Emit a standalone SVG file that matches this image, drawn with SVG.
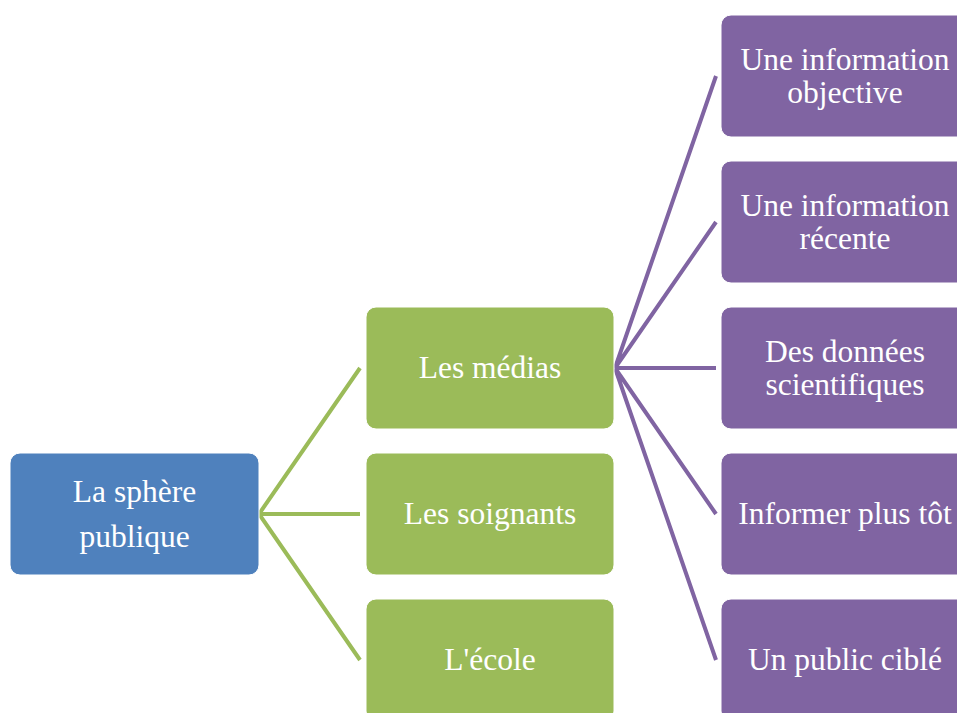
<svg xmlns="http://www.w3.org/2000/svg" width="957" height="713" viewBox="0 0 957 713">
<style>
.n rect{stroke:#ffffff;stroke-width:1;}
.b rect{fill:#4F81BD;}
.g rect{fill:#9BBB59;}
.p rect{fill:#8064A2;}
text{font-family:"Liberation Serif","Times New Roman",serif;font-size:31.5px;fill:#ffffff;text-anchor:middle;}
.cg{stroke:#9BBB59;stroke-width:4;fill:none;}
.cp{stroke:#8064A2;stroke-width:4;fill:none;}
</style>
<rect width="957" height="713" fill="#ffffff"/>
<g id="connectors">
<path class="cg" d="M360,368 L259,514 L360,660 M259,514 L360,514"/>
<path class="cp" d="M716,76 L615,368 L716,222 M615,368 L716,368 M615,368 L716,514 M615,368 L716,660"/>
</g>
<g id="root" class="n b"><rect x="10" y="453" width="249" height="122" rx="10"/><text x="134.5" y="501.5">La sphère</text><text x="134.5" y="546.5">publique</text></g>
<g id="medias" class="n g"><rect x="366" y="307" width="248" height="122" rx="10"/><text x="490" y="378">Les médias</text></g>
<g id="soignants" class="n g"><rect x="366" y="453" width="248" height="122" rx="10"/><text x="490" y="524">Les soignants</text></g>
<g id="ecole" class="n g"><rect x="366" y="599" width="248" height="122" rx="10"/><text x="490" y="670">L'école</text></g>
<g id="p1" class="n p"><rect x="721" y="15" width="248" height="122" rx="10"/><text x="845" y="69.5">Une information</text><text x="845" y="102.5">objective</text></g>
<g id="p2" class="n p"><rect x="721" y="161" width="248" height="122" rx="10"/><text x="845" y="215.5">Une information</text><text x="845" y="248.5">récente</text></g>
<g id="p3" class="n p"><rect x="721" y="307" width="248" height="122" rx="10"/><text x="845" y="361.5">Des données</text><text x="845" y="394.5">scientifiques</text></g>
<g id="p4" class="n p"><rect x="721" y="453" width="248" height="122" rx="10"/><text x="845" y="524">Informer plus tôt</text></g>
<g id="p5" class="n p"><rect x="721" y="599" width="248" height="122" rx="10"/><text x="845" y="670">Un public ciblé</text></g>
</svg>
